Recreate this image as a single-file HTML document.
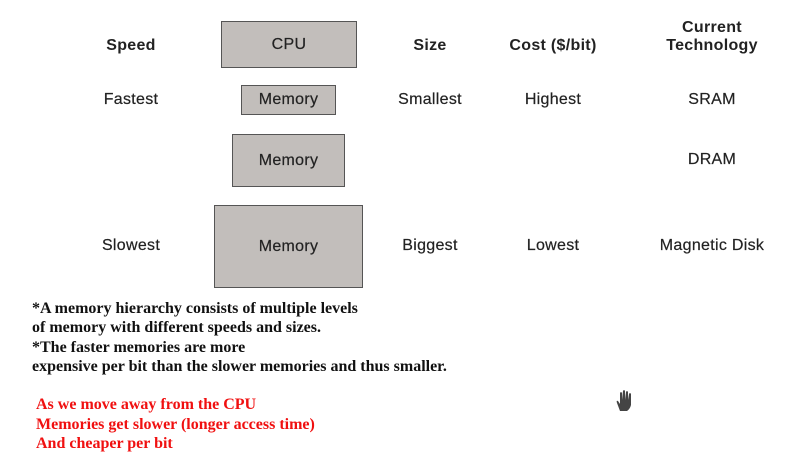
<!DOCTYPE html>
<html><head><meta charset="utf-8"><style>
body{margin:0;width:790px;height:464px;background:#fff;position:relative;overflow:hidden;font-family:"Liberation Sans",sans-serif;}
.t{position:absolute;font-size:16px;letter-spacing:0.3px;color:#222;transform:translate(-50%,-50%);white-space:nowrap;-webkit-text-stroke:0.2px #222}
.b{font-weight:bold;-webkit-text-stroke:0}
.box{position:absolute;background:#c2bebb;border:1px solid #555;box-sizing:border-box;display:flex;align-items:center;justify-content:center;font-size:16px;letter-spacing:0.3px;color:#222;-webkit-text-stroke:0.2px #222}
.s{position:absolute;left:32px;font-family:"Liberation Serif",serif;font-weight:bold;font-size:16px;color:#111;white-space:nowrap}
.r{color:#f01010;left:36px}
</style></head><body>
<div class="t b" style="left:131px;top:46px">Speed</div>
<div class="t b" style="left:430px;top:46px">Size</div>
<div class="t b" style="left:553px;top:46px">Cost ($/bit)</div>
<div class="t b" style="left:712px;top:28px">Current</div>
<div class="t b" style="left:712px;top:46px">Technology</div>
<div class="box" style="left:221px;top:21px;width:136px;height:47px">CPU</div>
<div class="box" style="left:241px;top:85px;width:95px;height:30px">Memory</div>
<div class="box" style="left:232px;top:134px;width:113px;height:53px">Memory</div>
<div class="box" style="left:214px;top:205px;width:149px;height:83px">Memory</div>
<div class="t" style="left:131px;top:100px">Fastest</div>
<div class="t" style="left:430px;top:100px">Smallest</div>
<div class="t" style="left:553px;top:100px">Highest</div>
<div class="t" style="left:712px;top:100px">SRAM</div>
<div class="t" style="left:712px;top:160px">DRAM</div>
<div class="t" style="left:131px;top:246px">Slowest</div>
<div class="t" style="left:430px;top:246px">Biggest</div>
<div class="t" style="left:553px;top:246px">Lowest</div>
<div class="t" style="left:712px;top:246px">Magnetic Disk</div>
<div class="s" style="top:300px">*A memory hierarchy consists of multiple levels</div>
<div class="s" style="top:319px">of memory with different speeds and sizes.</div>
<div class="s" style="top:339px">*The faster memories are more</div>
<div class="s" style="top:358px">expensive per bit than the slower memories and thus smaller.</div>
<div class="s r" style="top:396px">As we move away from the CPU</div>
<div class="s r" style="top:416px">Memories get slower (longer access time)</div>
<div class="s r" style="top:435px">And cheaper per bit</div>
<svg style="position:absolute;left:614px;top:389px" width="22" height="24" viewBox="0 0 22 24">
<path d="M6 22 L3 14 Q2 11 4 12 L6 15 L6 4 Q7 2 8 4 L8 11 L9 2 Q10 0 11 2 L11 11 L12 3 Q13 1 14 3 L14 11 L15 5 Q16 3 17 5 L17 16 Q16 20 13 22 Z" fill="#444"/>
</svg>
</body></html>
